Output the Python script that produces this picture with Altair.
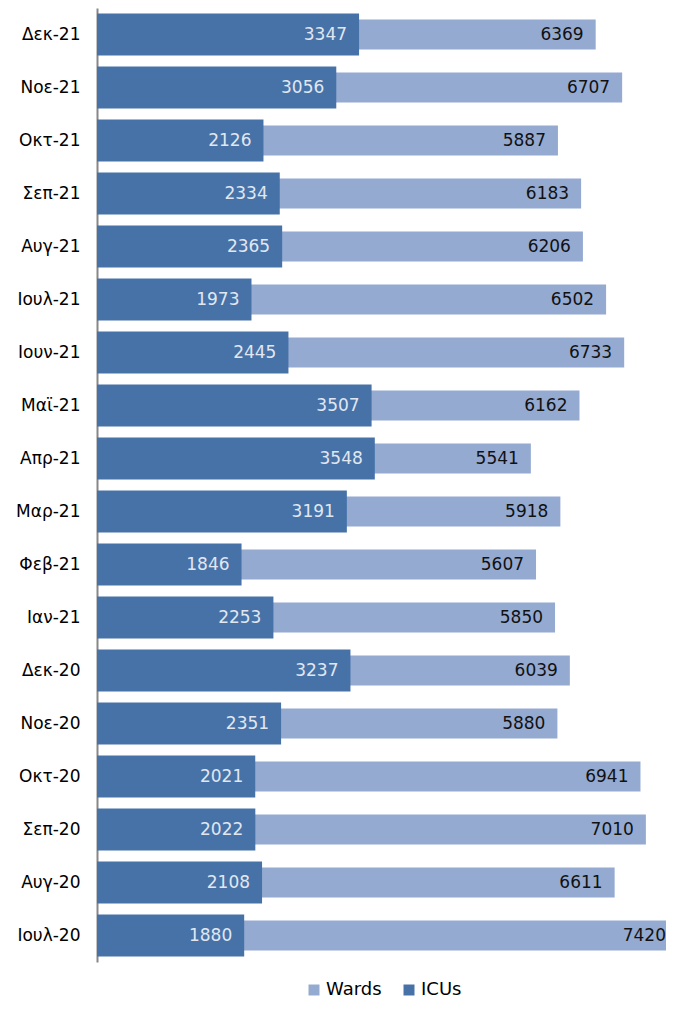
import altair as alt
import pandas as pd

months = ["Δεκ-21", "Νοε-21", "Οκτ-21", "Σεπ-21", "Αυγ-21", "Ιουλ-21", "Ιουν-21",
          "Μαϊ-21", "Απρ-21", "Μαρ-21", "Φεβ-21", "Ιαν-21", "Δεκ-20", "Νοε-20",
          "Οκτ-20", "Σεπ-20", "Αυγ-20", "Ιουλ-20"]
icus = [3347, 3056, 2126, 2334, 2365, 1973, 2445, 3507, 3548, 3191, 1846, 2253,
        3237, 2351, 2021, 2022, 2108, 1880]
wards = [6369, 6707, 5887, 6183, 6206, 6502, 6733, 6162, 5541, 5918, 5607, 5850,
         6039, 5880, 6941, 7010, 6611, 7420]
series_names = ["Wards", "ICUs"]
series_colors = ["#94AAD1", "#4672A8"]

rows = []
for m, w, i in zip(months, wards, icus):
    rows.append({"month": m, "series": "Wards", "value": w})
    rows.append({"month": m, "series": "ICUs", "value": i})
df = pd.DataFrame(rows)

FONT = "DejaVu Sans"

y_enc = alt.Y("month:N", sort=months, title=None,
              scale=alt.Scale(paddingInner=0, paddingOuter=0),
              axis=alt.Axis(ticks=False, domainColor="#878787", domainWidth=2,
                            labelFontSize=17, labelColor="#000000", labelFont=FONT,
                            labelPadding=17))
x_enc = alt.X("value:Q", axis=None, scale=alt.Scale(domain=[0, 7267], nice=False))
color_enc = alt.Color("series:N",
                      scale=alt.Scale(domain=series_names, range=series_colors),
                      legend=alt.Legend(title=None, orient="none", direction="horizontal",
                                        legendX=208, legendY=973,
                                        symbolType="square", symbolSize=121,
                                        symbolStrokeWidth=0,
                                        labelFontSize=18, labelFont=FONT,
                                        labelColor="#000000", columnPadding=18,
                                        labelOffset=3))

base = alt.Chart(df)

wards_bar = base.transform_filter(alt.datum.series == "Wards").mark_bar(size=30, clip=True).encode(
    x=x_enc, y=y_enc, color=color_enc)
icu_bar = base.transform_filter(alt.datum.series == "ICUs").mark_bar(size=42, clip=True).encode(
    x=x_enc, y=y_enc, color=color_enc)
wards_txt = base.transform_filter(alt.datum.series == "Wards").mark_text(
    align="right", baseline="middle", dx=-12, fontSize=17, font=FONT, color="#111111").encode(
    x=x_enc, y=y_enc, text="value:Q")
icu_txt = base.transform_filter(alt.datum.series == "ICUs").mark_text(
    align="right", baseline="middle", dx=-12, fontSize=17, font=FONT, color="#E1E7F0").encode(
    x=x_enc, y=y_enc, text="value:Q")

chart = alt.layer(wards_bar, icu_bar, wards_txt, icu_txt).properties(
    width=569, height=954,
    background="white",
    autosize=alt.AutoSizeParams(type="none"),
    padding={"left": 89, "top": 0, "right": 0, "bottom": 40},
).configure_view(strokeWidth=0)

chart.save("out.html", embed_options={"renderer": "svg", "actions": False})
